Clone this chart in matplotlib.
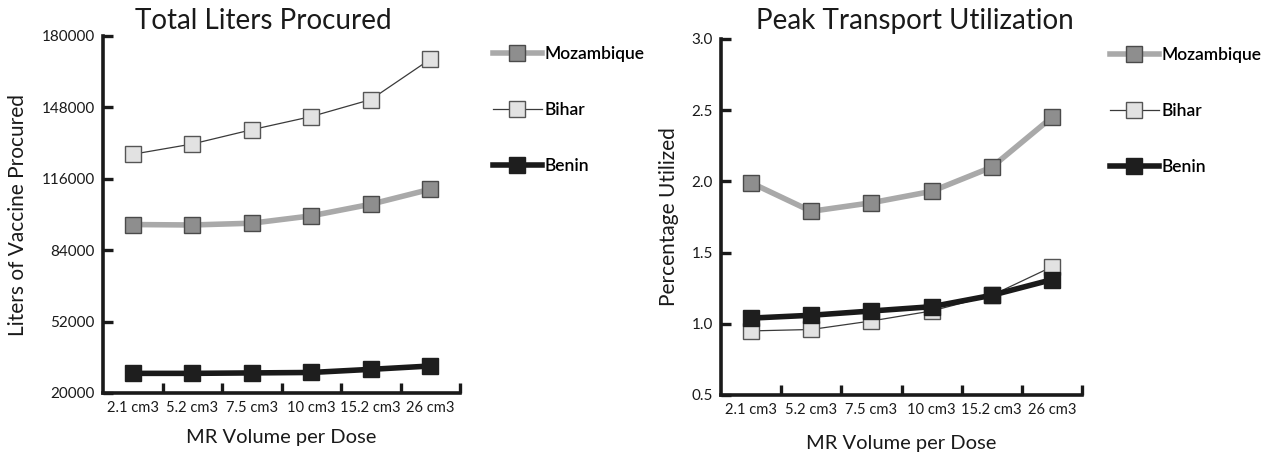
import matplotlib
matplotlib.use("Agg")
import matplotlib.pyplot as plt

plt.rcParams['font.family'] = ['Lato', 'DejaVu Sans']

# categories on the x axis
volumes = ["2.1 cm3", "5.2 cm3", "7.5 cm3", "10 cm3", "15.2 cm3", "26 cm3"]

# total liters procured
liters_mozambique = [95500, 95300, 96100, 99400, 104600, 111300]
liters_bihar = [127000, 131600, 138000, 143900, 151500, 169600]
liters_benin = [28800, 28800, 29000, 29200, 30600, 32100]
liters_ticks = [20000, 52000, 84000, 116000, 148000, 180000]

# peak transport utilization
util_mozambique = [1.99, 1.79, 1.85, 1.93, 2.10, 2.45]
util_bihar = [0.95, 0.96, 1.02, 1.09, 1.20, 1.40]
util_benin = [1.04, 1.06, 1.09, 1.12, 1.20, 1.31]
util_ticks = [0.5, 1.0, 1.5, 2.0, 2.5, 3.0]

series_style = {
    "Mozambique": dict(color="#a9a9a9", lw=4.0, marker="s", ms=11.5,
                       mfc="#8e8e8e", mec="#4a4a4a", mew=1.0, zorder=3),
    "Bihar": dict(color="#3a3a3a", lw=0.9, marker="s", ms=11.5,
                  mfc="#e2e2e2", mec="#555555", mew=1.0, zorder=3),
    "Benin": dict(color="#1a1a1a", lw=4.0, marker="s", ms=12,
                  mfc="#1e1e1e", mec="#1e1e1e", mew=1.0, zorder=4),
}

fig = plt.figure(figsize=(12.66, 4.57), dpi=100)
ax1 = fig.add_axes([103 / 1266, 1 - 393 / 457, 357 / 1266, 357 / 457])
ax2 = fig.add_axes([721 / 1266, 1 - 395 / 457, 361 / 1266, 356 / 457])


def style_axes(ax, yticks, fmt):
    x = range(len(volumes))
    ax.set_xlim(-0.5, len(volumes) - 0.5)
    ax.set_ylim(yticks[0], yticks[-1])
    for s in ["top", "right"]:
        ax.spines[s].set_visible(False)
    for s in ["left", "bottom"]:
        ax.spines[s].set_linewidth(2.6)
        ax.spines[s].set_color("#1a1a1a")
        ax.spines[s].set_capstyle("projecting")
    ax.set_xticks(list(x))
    ax.set_xticklabels(volumes, fontsize=10.6, color="#1a1a1a")
    ax.tick_params(axis="x", which="major", length=0, pad=6)
    ax.set_xticks([i + 0.5 for i in x], minor=True)
    ax.tick_params(axis="x", which="minor", direction="in", length=7,
                   width=2.4, color="#1a1a1a")
    ax.set_yticks(yticks)
    ax.set_yticklabels([fmt.format(v) for v in yticks], fontsize=11,
                       color="#1a1a1a")
    ax.tick_params(axis="y", direction="in", length=7, width=2.4,
                   color="#1a1a1a", pad=6)
    ax.set_xlabel("MR Volume per Dose", fontsize=14.5, color="#1a1a1a",
                  labelpad=10)


x = list(range(len(volumes)))
ax1.plot(x, liters_mozambique, label="Mozambique", **series_style["Mozambique"])
ax1.plot(x, liters_bihar, label="Bihar", **series_style["Bihar"])
ax1.plot(x, liters_benin, label="Benin", **series_style["Benin"])
style_axes(ax1, liters_ticks, "{:d}")
ax1.set_ylabel("Liters of Vaccine Procured", fontsize=15, color="#1a1a1a",
               labelpad=10)

ax2.plot(x, util_mozambique, label="Mozambique", **series_style["Mozambique"])
ax2.plot(x, util_bihar, label="Bihar", **series_style["Bihar"])
ax2.plot(x, util_benin, label="Benin", **series_style["Benin"])
style_axes(ax2, util_ticks, "{:.1f}")
ax2.set_ylabel("Percentage Utilized", fontsize=15, color="#1a1a1a",
               labelpad=8)
ax2.yaxis.set_label_coords(-0.115, 0.5)
ax2.xaxis.labelpad = 13

fig.text(263 / 1266, 1 - 21 / 457, "Total Liters Procured", fontsize=20,
         ha="center", va="center", color="#1a1a1a")
fig.text(915 / 1266, 1 - 21 / 457, "Peak Transport Utilization", fontsize=20,
         ha="center", va="center", color="#1a1a1a")

for ax, anchor in [(ax1, (493 / 1266, 1 - 46 / 457)),
                   (ax2, (1110 / 1266, 1 - 47 / 457))]:
    leg = ax.legend(loc="upper left", bbox_to_anchor=anchor,
                    bbox_transform=fig.transFigure, frameon=False,
                    handlelength=2.8, handletextpad=0.15, labelspacing=2.3,
                    borderaxespad=0, borderpad=0,
                    prop=dict(family="Lato", size=12.5, weight="semibold"))

fig.savefig("out.png", dpi=100, facecolor="white")
